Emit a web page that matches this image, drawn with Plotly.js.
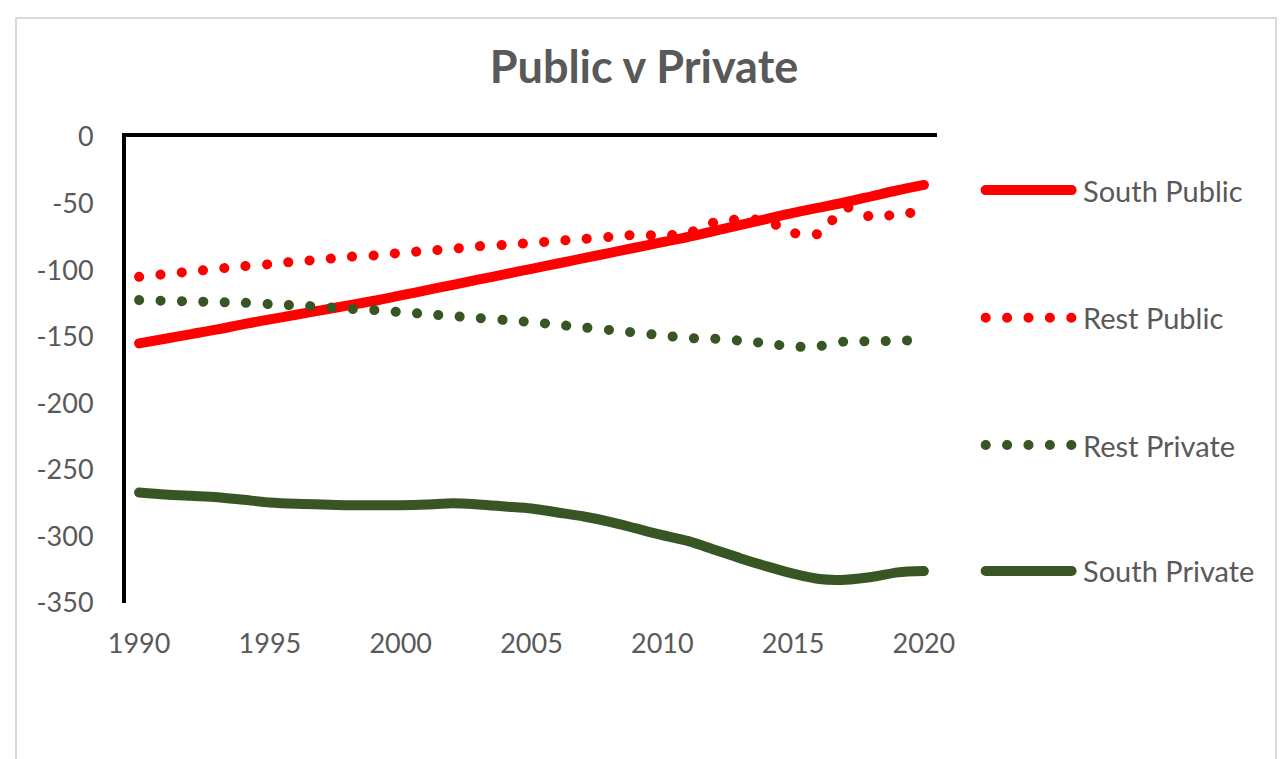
<!DOCTYPE html>
<html>
<head>
<meta charset="utf-8">
<script src="https://cdn.plot.ly/plotly-3.0.1.min.js"></script>
<style>
  html, body { margin: 0; padding: 0; background: #ffffff; }
  #chart { width: 1288px; height: 759px; }
  /* rounded ends so the dotted series draw as round dots */
  .js-line, .shapelayer path { stroke-linecap: round !important; stroke-linejoin: round !important; }
</style>
</head>
<body>
<div id="chart"></div>
<script>
// Years on the horizontal axis
const years = [1990, 1991, 1992, 1993, 1994, 1995, 1996, 1997, 1998, 1999,
               2000, 2001, 2002, 2003, 2004, 2005, 2006, 2007, 2008, 2009,
               2010, 2011, 2012, 2013, 2014, 2015, 2016, 2017, 2018, 2019, 2020];

const southPublic = [-155, -151.5, -148, -144.5, -140.5, -137, -133.5, -130, -126.5, -123,
                     -119, -115, -111, -107, -103, -99, -95, -91, -87, -83,
                     -79, -75, -70.5, -66, -61.5, -57, -53, -49, -44.5, -40, -36];

const restPublic = [-105, -103, -101, -99, -97, -95.5, -93.5, -92, -90, -89,
                    -87, -85.5, -84, -82, -81, -79.5, -78, -76.5, -75, -73.5,
                    -74, -72, -64, -62, -63, -72, -72.5, -53, -60, -58, -56];

const restPrivate = [-122.5, -123, -123.5, -124, -124.5, -125.5, -126.5, -127.5, -129, -130,
                     -131.5, -133, -134.5, -136, -137.5, -139, -141, -143, -145, -147,
                     -149, -151, -151.5, -153, -155, -157.5, -157, -153.5, -153.5, -153, -152.5];

const southPrivate = [-267, -268.5, -269.5, -270.5, -272.5, -274.5, -275.5, -276, -276.5, -276.5,
                      -276.5, -276, -275, -276, -277.5, -279, -282, -285, -289, -294,
                      -299, -303.5, -310, -316.5, -322.5, -328, -332, -332.5, -330.5, -327, -326];

const seriesNames = ['South Public', 'Rest Public', 'Rest Private', 'South Private'];

const xTickVals = [1990, 1995, 2000, 2005, 2010, 2015, 2020];
const xTickText = ['1990', '1995', '2000', '2005', '2010', '2015', '2020'];
const yTickVals = [0, -50, -100, -150, -200, -250, -300, -350];
const yTickText = ['0', '-50', '-100', '-150', '-200', '-250', '-300', '-350'];

const RED = '#FF0000';
const GREEN = '#375623';
const GREY_TEXT = '#595959';
const FONT = 'Lato, "Open Sans", sans-serif';
const DOTS = '0.1px,21.3px';
const LW = 10;

const styles = {
  'South Public':  { color: RED,   dash: 'solid', xaxis: 'x' },
  'Rest Public':   { color: RED,   dash: DOTS,    xaxis: 'x' },
  'Rest Private':  { color: GREEN, dash: DOTS,    xaxis: 'x2' },
  'South Private': { color: GREEN, dash: 'solid', xaxis: 'x' }
};
const values = {
  'South Public': southPublic,
  'Rest Public': restPublic,
  'Rest Private': restPrivate,
  'South Private': southPrivate
};

// drawing order: dotted red underneath the solid red, dotted green above it
const drawOrder = ['Rest Public', 'South Public', 'South Private', 'Rest Private'];
const traces = drawOrder.map(name => ({
  type: 'scatter',
  mode: 'lines',
  name: name,
  x: years,
  y: values[name],
  xaxis: styles[name].xaxis,
  yaxis: 'y',
  line: { color: styles[name].color, width: LW, dash: styles[name].dash, shape: 'spline', smoothing: 0.8 },
  hoverinfo: 'x+y+name',
  showlegend: false
}));

// Legend drawn at the right: long sample line plus label per series
const legendX0 = 1.060, legendX1 = 1.166, legendTextX = 1.177;
const legendY = [0.886, 0.612, 0.339, 0.0687];
const shapes = [
  { type: 'rect', xref: 'paper', yref: 'paper', x0: -0.1356, x1: 1.418, y0: -0.40, y1: 1.2554,
    line: { color: '#D9D9D9', width: 2 }, layer: 'below' }
];
const annotations = [];
seriesNames.forEach((name, i) => {
  shapes.push({
    type: 'line', xref: 'paper', yref: 'paper',
    x0: legendX0, x1: legendX1, y0: legendY[i], y1: legendY[i],
    line: { color: styles[name].color, width: LW, dash: styles[name].dash }
  });
  annotations.push({
    xref: 'paper', yref: 'paper', x: legendTextX, y: legendY[i],
    xanchor: 'left', yanchor: 'middle', showarrow: false,
    text: name, font: { family: FONT, size: 29, color: GREY_TEXT }
  });
});

const layout = {
  width: 1288,
  height: 759,
  margin: { l: 126, r: 351, t: 137, b: 156, pad: 0 },
  paper_bgcolor: '#FFFFFF',
  plot_bgcolor: '#FFFFFF',
  showlegend: false,
  title: {
    text: 'Public v Private',
    font: { family: FONT, size: 45, color: GREY_TEXT, weight: 'bold' },
    x: 0.5, xref: 'container', xanchor: 'center',
    y: 0.912, yref: 'container', yanchor: 'middle'
  },
  xaxis: {
    range: [1989.5, 2020.5],
    tickvals: xTickVals, ticktext: xTickText,
    showline: false, showgrid: false, zeroline: false, ticks: '',
    ticklabelstandoff: 22,
    tickfont: { family: FONT, size: 27, color: GREY_TEXT }
  },
  // zero line along the top edge
  xaxis2: {
    overlaying: 'x', anchor: 'y', side: 'top',
    range: [1989.5, 2020.5],
    showline: true, linecolor: '#000000', linewidth: 4,
    showticklabels: false, showgrid: false, zeroline: false, ticks: ''
  },
  yaxis: {
    range: [-350, 0],
    tickvals: yTickVals, ticktext: yTickText,
    showline: true, linecolor: '#000000', linewidth: 4,
    showgrid: false, zeroline: false, ticks: '',
    ticklabelstandoff: 23,
    tickfont: { family: FONT, size: 27, color: GREY_TEXT }
  },
  shapes: shapes,
  annotations: annotations
};

Plotly.newPlot('chart', traces, layout, { displayModeBar: false, staticPlot: true });
</script>
</body>
</html>
